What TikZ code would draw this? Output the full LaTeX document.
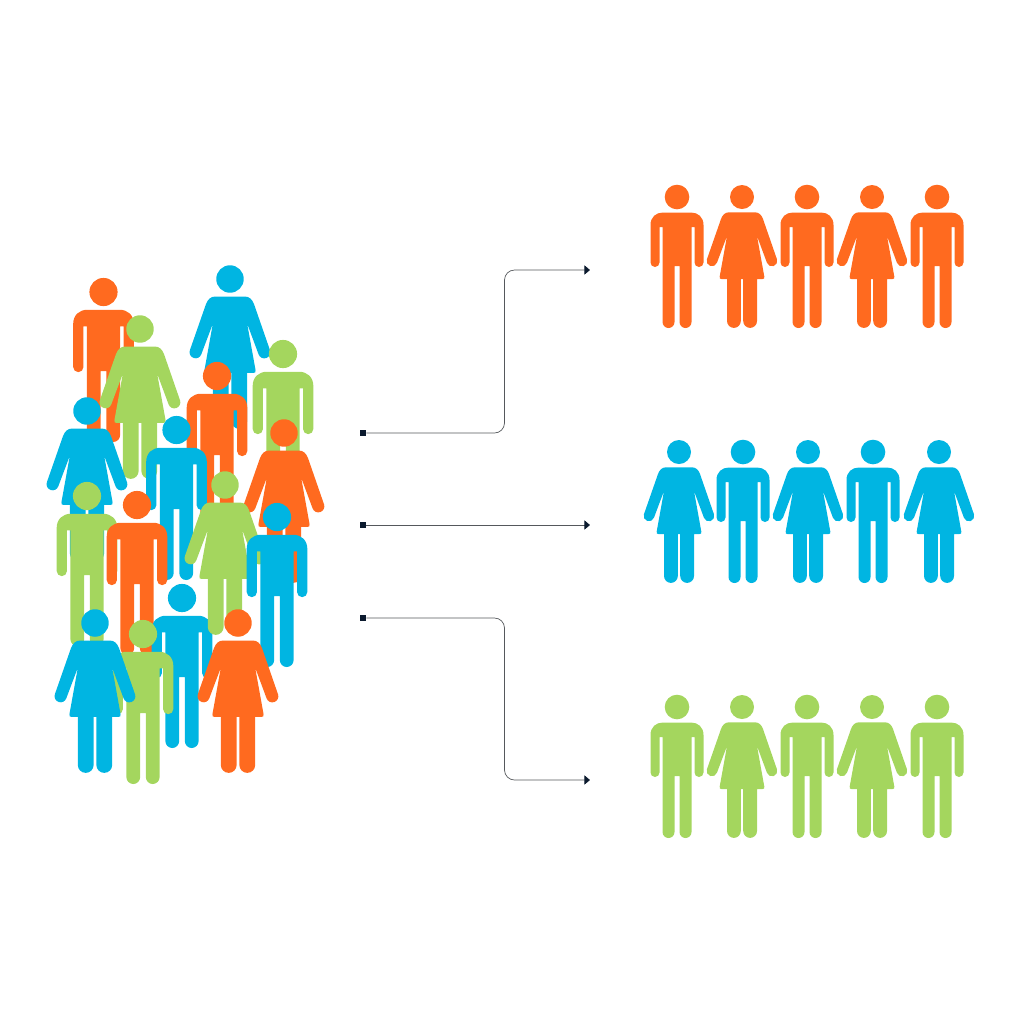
\documentclass[tikz,border=0pt]{standalone}
\definecolor{peopleorange}{HTML}{FF6A1F}
\definecolor{peopleblue}{HTML}{00B5E2}
\definecolor{peoplegreen}{HTML}{A4D65E}
\definecolor{linkdark}{HTML}{0B1A2E}
\definecolor{linkgrey}{HTML}{55585C}
\usetikzlibrary{arrows.meta}

\begin{document}
\begin{tikzpicture}[
  x=0.5pt,
  y=-0.5pt,
  man/.pic={
    \fill[pic actions] (0,0) circle[radius=12.3]
      (-17.5,30) -- (-17.5,65.5) arc[start angle=0,end angle=180,radius=4.5]
      -- (-26.5,28) .. controls (-26.5,20) and (-21,15.5) .. (-14,15.5)
      -- (14,15.5) .. controls (21,15.5) and (26.5,20) .. (26.5,28)
      -- (26.5,65.5) arc[start angle=0,end angle=180,radius=4.5]
      -- (17.5,30) -- (14.5,30) -- (14.5,125) arc[start angle=0,end angle=180,radius=6]
      -- (2.5,69) -- (-2.5,69) -- (-2.5,125) arc[start angle=0,end angle=180,radius=6]
      -- (-14.5,30) -- cycle;
  },
  woman/.pic={
    \fill[pic actions] (0,0) circle[radius=12]
      (-13,15.3) -- (13,15.3) .. controls (17,15.3) and (19.5,18) .. (21,22)
      -- (35,62.4) arc[start angle=-18,end angle=162,radius=5.3]
      -- (15,39) -- (22.3,79.5) .. controls (22.7,81.5) and (22,82) .. (20.5,82) -- (15,82)
      -- (15,124) arc[start angle=0,end angle=180,radius=6.9]
      -- (1.2,82) -- (-1.2,82) -- (-1.2,124) arc[start angle=0,end angle=180,radius=6.9]
      -- (-15,82) -- (-20.5,82) .. controls (-22,82) and (-22.7,81.5) .. (-22.3,79.5) -- (-15,39)
      -- (-25,65.6) arc[start angle=18,end angle=198,radius=5.3]
      -- (-21,22) .. controls (-19.5,18) and (-17,15.3) .. (-13,15.3) -- cycle;
  },
  crowd/.style={scale=1.145},
  startmark/.style={rectangle,fill=linkdark,inner sep=0pt,minimum size=3pt},
  link/.style={draw=linkgrey,line width=0.35pt,rounded corners=5pt,-{Triangle[length=2.8pt,width=4.6pt,color=linkdark]}}
]
  \useasboundingbox (0,0) rectangle (1024,1024);

  % crowd, back to front
  \pic[crowd,fill=peopleorange] at (103.5,292) {man};
  \pic[crowd,fill=peopleblue] at (230,279) {woman};
  \pic[crowd,fill=peoplegreen] at (140,329) {woman};
  \pic[crowd,fill=peoplegreen] at (283,354) {man};
  \pic[crowd,fill=peopleorange] at (217,376) {man};
  \pic[crowd,fill=peopleorange] at (284,433) {woman};
  \pic[crowd,fill=peopleblue] at (87,411) {woman};
  \pic[crowd,fill=peopleblue] at (176.5,430) {man};
  \pic[crowd,fill=peoplegreen] at (87,496) {man};
  \pic[crowd,fill=peopleorange] at (137,505) {man};
  \pic[crowd,fill=peopleblue] at (182,598) {man};
  \pic[crowd,fill=peoplegreen] at (225,485) {woman};
  \pic[crowd,fill=peopleblue] at (277,517) {man};
  \pic[crowd,fill=peopleorange] at (238,623) {woman};
  \pic[crowd,fill=peoplegreen] at (143,634) {man};
  \pic[crowd,fill=peopleblue] at (95,623) {woman};

  % sorted rows
  \foreach \px/\kind in {677/man,742/woman,807/man,872/woman,937/man}{
    \pic[fill=peopleorange] at (\px,197) {\kind};
    \pic[fill=peoplegreen] at (\px,707) {\kind};
  }
  \foreach \px/\kind in {679/woman,743/man,808/woman,873/man,939/woman}{
    \pic[fill=peopleblue] at (\px,452) {\kind};
  }

  % connectors
  \node[startmark] (src1) at (363,433) {};
  \node[startmark] (src2) at (363,525) {};
  \node[startmark] (src3) at (363,618) {};
  \coordinate (knee1) at (504.5,270);
  \coordinate (knee3) at (504.5,780);
  \coordinate (dst1) at (590,270);
  \coordinate (dst2) at (590,525);
  \coordinate (dst3) at (590,780);

  \draw[link] (src1) -| (knee1) -- (dst1);
  \draw[link] (src2) -- (dst2);
  \draw[link] (src3) -| (knee3) -- (dst3);
\end{tikzpicture}
\end{document}
